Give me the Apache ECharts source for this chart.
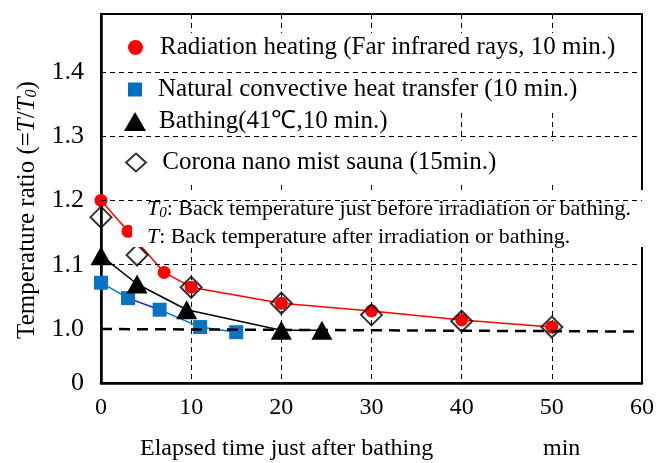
<!DOCTYPE html>
<html>
<head>
<meta charset="utf-8">
<script src="https://cdn.jsdelivr.net/npm/echarts@6/dist/echarts.min.js"></script>
<style>
html, body { margin: 0; padding: 0; background: #fff; }
#chart { width: 658px; height: 463px; }
</style>
</head>
<body>
<div id="chart"></div>
<script>
// series names (legend)
var seriesNames = [
  'Radiation heating (Far infrared rays, 10 min.)',
  'Natural convective heat transfer (10 min.)',
  'Bathing(41\u2103,10 min.)',
  ' Corona nano mist sauna (15min.)'
];

// data: elapsed time (min) and T/T0
var radiationX = [0, 3, 7, 10, 20, 30, 40, 50];
var radiationY = [1.200, 1.152, 1.088, 1.065, 1.040, 1.028, 1.014, 1.003];
var convectiveX = [0, 3, 6.5, 11, 15];
var convectiveY = [1.072, 1.048, 1.030, 1.003, 0.995];
var bathingX = [0, 4, 9.5, 20, 24.5];
var bathingY = [1.114, 1.070, 1.030, 0.998, 0.998];
var coronaX = [0, 4, 10, 20, 30, 40, 50];
var coronaY = [1.174, 1.115, 1.065, 1.040, 1.022, 1.012, 1.003];

// axes (the y axis is broken: its bottom is labelled 0)
var yMin = 0.916, yMax = 1.490;
var yTickValues = [0.916, 1.0, 1.1, 1.2, 1.3, 1.4];
var yTickLabels = ['0', '1.0', '1.1', '1.2', '1.3', '1.4'];
var yGridValues = [1.1, 1.2, 1.3, 1.4];
var baseLine = [[0, 1.0], [60, 0.996]];

var FONT = 'Liberation Serif';

function pairs(xs, ys) {
  return xs.map(function (x, i) { return [x, ys[i]]; });
}

var chart = echarts.init(document.getElementById('chart'));

var gridMarks = yGridValues.map(function (v) {
  return { yAxis: v, lineStyle: { type: [5, 4], width: 1, color: '#000' } };
});
gridMarks.push([
  { coord: baseLine[0], lineStyle: { type: [11, 7], width: 2.5, color: '#000' } },
  { coord: baseLine[1] }
]);

function legendRow(name, top, left, w, h, pad, icon, style) {
  return {
    left: left, top: top, padding: 0, z: 10,
    itemWidth: w, itemHeight: h,
    selectedMode: false,
    data: [{ name: name, icon: icon, itemStyle: style }],
    textStyle: { fontFamily: FONT, fontSize: 25, color: '#000', padding: [0, 0, 0, pad] }
  };
}

var noteRich = {
  n: { fontFamily: FONT, fontSize: 22, fill: '#000' },
  i: { fontFamily: FONT, fontSize: 22, fill: '#000', fontStyle: 'italic' },
  s: { fontFamily: FONT, fontSize: 15, fill: '#000', fontStyle: 'italic', padding: [8, 0, 0, 0] }
};

chart.setOption({
  animation: false,
  grid: { left: 101, right: 16, top: 14, bottom: 80, show: true, borderColor: '#000', borderWidth: 2 },
  legend: [
    legendRow(seriesNames[0], 35, 128, 15, 15, 12, 'circle', { color: '#ff0000' }),
    legendRow(seriesNames[1], 77, 128, 14, 14, 11, 'rect', { color: '#0070c0' }),
    legendRow(seriesNames[2], 109, 124, 22, 19, 8, 'triangle', { color: '#000' }),
    legendRow(seriesNames[3], 150, 125, 20, 18, 5, 'diamond', { color: '#fff', borderColor: '#000', borderWidth: 2 })
  ],
  visualMap: {
    show: false, type: 'piecewise', seriesIndex: 1, dimension: 0,
    pieces: [{ gt: 3, lt: 6.5, color: '#1414e6' }],
    outOfRange: { color: '#0a74c4' }
  },
  xAxis: {
    type: 'value', min: 0, max: 60, interval: 10,
    axisLine: { lineStyle: { color: '#000', width: 2.5 } },
    axisTick: { show: false },
    axisLabel: { color: '#000', fontFamily: FONT, fontSize: 24, margin: 13 },
    splitLine: { show: true, lineStyle: { type: [5, 4], width: 1, color: '#000' } }
  },
  yAxis: {
    type: 'value', min: yMin, max: yMax,
    name: '{n|Temperature ratio (=}{i|T}{n|/}{i|T}{s|0}{n|)}',
    nameLocation: 'middle', nameRotate: 90, nameGap: 61,
    nameTextStyle: {
      padding: [0, 23, 0, 0],
      rich: {
        n: { fontFamily: FONT, fontSize: 25, color: '#000' },
        i: { fontFamily: FONT, fontSize: 25, color: '#000', fontStyle: 'italic' },
        s: { fontFamily: FONT, fontSize: 16, color: '#000', fontStyle: 'italic', padding: [9, 0, 0, 0] }
      }
    },
    axisLine: { show: true, lineStyle: { color: '#000', width: 2.5 } },
    axisTick: { show: false },
    splitLine: { show: false },
    axisLabel: {
      customValues: yTickValues,
      color: '#000', fontFamily: FONT, fontSize: 26, margin: 17,
      formatter: function (v) {
        for (var i = 0; i < yTickValues.length; i++) {
          if (Math.abs(yTickValues[i] - v) < 1e-6) return yTickLabels[i];
        }
        return '';
      }
    }
  },
  graphic: [
    // white areas behind legend and note (they hide the grid, as in the figure)
    { type: 'rect', z: 3, shape: { x: 143, y: 33, width: 495, height: 80 }, style: { fill: '#fff' } },
    { type: 'rect', z: 3, shape: { x: 143, y: 112, width: 312, height: 30 }, style: { fill: '#fff' } },
    { type: 'rect', z: 3, shape: { x: 143, y: 141, width: 495, height: 40 }, style: { fill: '#fff' } },
    { type: 'rect', z: 3, shape: { x: 132, y: 190, width: 520, height: 57 }, style: { fill: '#fff' } },
    {
      type: 'text', z: 4, left: 147, top: 198,
      style: { text: '{i|T}{s|0}{n|: Back temperature just before irradiation or bathing.}', rich: noteRich }
    },
    {
      type: 'text', z: 4, left: 147, top: 226,
      style: { text: '{i|T}{n|: Back temperature after irradiation or bathing.}', rich: noteRich }
    },
    {
      type: 'text', z: 4, left: 140, top: 437,
      style: { text: 'Elapsed time just after bathing', fontFamily: FONT, fontSize: 24, fill: '#000' }
    },
    {
      type: 'text', z: 4, left: 543, top: 437,
      style: { text: 'min', fontFamily: FONT, fontSize: 24, fill: '#000' }
    }
  ],
  series: [
    {
      name: seriesNames[0], type: 'line', z: 2,
      data: pairs(radiationX, radiationY),
      symbol: 'circle', symbolSize: 13,
      lineStyle: { color: '#ff0000', width: 1.5 },
      itemStyle: { color: '#ff0000' }
    },
    {
      name: seriesNames[1], type: 'line', z: 2,
      data: pairs(convectiveX, convectiveY),
      symbol: 'rect', symbolSize: 14,
      lineStyle: { width: 1.5 }
    },
    {
      name: seriesNames[2], type: 'line', z: 2,
      data: pairs(bathingX, bathingY),
      symbol: 'triangle', symbolSize: [21, 19],
      lineStyle: { color: '#000', width: 1.5 },
      itemStyle: { color: '#000' },
      markLine: { silent: true, symbol: 'none', label: { show: false }, data: gridMarks }
    },
    {
      name: seriesNames[3], type: 'scatter', z: 2,
      data: pairs(coronaX, coronaY),
      symbol: 'diamond', symbolSize: [21, 21],
      itemStyle: { color: 'rgba(255,255,255,0)', borderColor: '#000', borderWidth: 2 }
    }
  ]
});
</script>
</body>
</html>
